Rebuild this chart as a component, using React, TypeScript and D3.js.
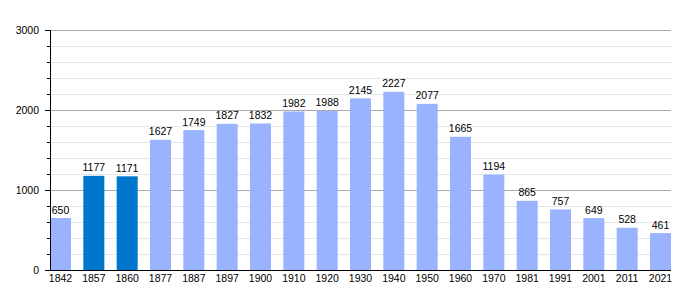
import React, { useEffect, useRef } from 'react';
import * as d3 from 'd3';

// Population by census year
const years = ['1842', '1857', '1860', '1877', '1887', '1897', '1900', '1910', '1920', '1930',
  '1940', '1950', '1960', '1970', '1981', '1991', '2001', '2011', '2021'];
const population = [650, 1177, 1171, 1627, 1749, 1827, 1832, 1982, 1988, 2145,
  2227, 2077, 1665, 1194, 865, 757, 649, 528, 461];
const highlighted = ['1857', '1860'];
const majorTicks = [0, 1000, 2000, 3000];
const minorTicks = [200, 400, 600, 800, 1200, 1400, 1600, 1800, 2200, 2400, 2600, 2800];

const W = 700;
const H = 300;
const LEFT = 50;
const RIGHT = 671;
const TOP = 30;
const BOTTOM = 270;
const FONT = 'Liberation Sans, Arial, sans-serif';
const FS = 10.5;

export default function App() {
  const svgRef = useRef<SVGSVGElement>(null);

  useEffect(() => {
    if (!svgRef.current) return;
    const svg = d3.select(svgRef.current);
    svg.selectAll('*').remove();

    const x = d3.scaleBand<string>()
      .domain(years)
      .range([LEFT, RIGHT])
      .paddingInner(0.37)
      .paddingOuter(0);

    const y = d3.scaleLinear().domain([0, 3000]).range([BOTTOM, TOP]);

    // minor grid
    svg.append('g').selectAll('line')
      .data(minorTicks)
      .enter().append('line')
      .attr('x1', LEFT).attr('x2', RIGHT)
      .attr('y1', d => y(d) + 0.5).attr('y2', d => y(d) + 0.5)
      .attr('stroke', '#e6e6e6');

    // major grid
    svg.append('g').selectAll('line')
      .data(majorTicks.filter(d => d > 0))
      .enter().append('line')
      .attr('x1', LEFT).attr('x2', RIGHT)
      .attr('y1', d => y(d) + 0.5).attr('y2', d => y(d) + 0.5)
      .attr('stroke', '#aaaaaa');

    // bars
    svg.append('g').selectAll('rect')
      .data(years)
      .enter().append('rect')
      .attr('x', d => x(d)!)
      .attr('width', x.bandwidth())
      .attr('y', (d, i) => y(population[i]))
      .attr('height', (d, i) => BOTTOM - y(population[i]))
      .attr('fill', d => highlighted.includes(d) ? '#0077cc' : '#99b3ff');

    // value labels
    svg.append('g').selectAll('text')
      .data(years)
      .enter().append('text')
      .attr('x', d => x(d)! + x.bandwidth() / 2)
      .attr('y', (d, i) => y(population[i]) - 4.5)
      .attr('text-anchor', 'middle')
      .attr('font-family', FONT)
      .attr('font-size', FS)
      .attr('fill', '#000')
      .text((d, i) => population[i]);

    // axes lines
    svg.append('line')
      .attr('x1', LEFT + 0.5).attr('x2', LEFT + 0.5)
      .attr('y1', TOP).attr('y2', BOTTOM + 1)
      .attr('stroke', '#000');
    svg.append('line')
      .attr('x1', LEFT).attr('x2', RIGHT)
      .attr('y1', BOTTOM + 0.5).attr('y2', BOTTOM + 0.5)
      .attr('stroke', '#000');

    // y ticks
    svg.append('g').selectAll('line')
      .data(majorTicks)
      .enter().append('line')
      .attr('x1', LEFT - 5).attr('x2', LEFT)
      .attr('y1', d => y(d) + 0.5).attr('y2', d => y(d) + 0.5)
      .attr('stroke', '#000');
    svg.append('g').selectAll('line')
      .data(minorTicks)
      .enter().append('line')
      .attr('x1', LEFT - 3).attr('x2', LEFT)
      .attr('y1', d => y(d) + 0.5).attr('y2', d => y(d) + 0.5)
      .attr('stroke', '#000');

    svg.append('g').selectAll('text')
      .data(majorTicks)
      .enter().append('text')
      .attr('x', LEFT - 11)
      .attr('y', d => y(d) + 4)
      .attr('text-anchor', 'end')
      .attr('font-family', FONT)
      .attr('font-size', FS)
      .text(d => d);

    // x labels
    svg.append('g').selectAll('text')
      .data(years)
      .enter().append('text')
      .attr('x', d => x(d)! + x.bandwidth() / 2)
      .attr('y', BOTTOM + 12)
      .attr('text-anchor', 'middle')
      .attr('font-family', FONT)
      .attr('font-size', FS)
      .text(d => d);
  }, []);

  return (
    <div style={{ position: 'absolute', left: 0, top: 0 }}>
      <svg ref={svgRef} width={W} height={H} style={{ display: 'block', background: '#fff' }} />
    </div>
  );
}
